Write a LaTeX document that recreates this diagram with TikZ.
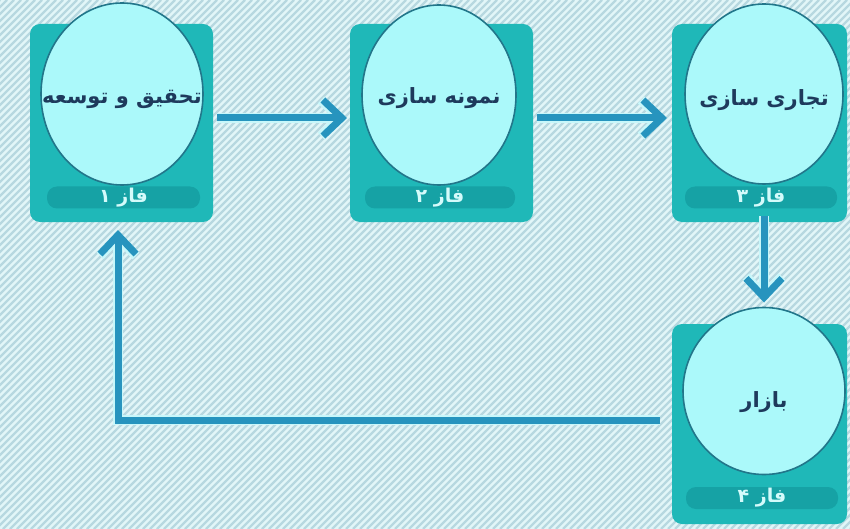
\documentclass[tikz,border=0pt]{standalone}
\usepackage{fontspec}
\newfontfamily\arabicfont[Script=Arabic]{DejaVu Sans}
\TeXXeTstate=1
\usetikzlibrary{arrows.meta,shapes.geometric}
\definecolor{bgA}{HTML}{E2F6F8}
\definecolor{bgS}{HTML}{B7D8E0}
\definecolor{boxc}{HTML}{1FB8B8}
\definecolor{pillc}{HTML}{16A2A5}
\definecolor{circf}{HTML}{ABF9FA}
\definecolor{circd}{HTML}{22768A}
\definecolor{arrc}{HTML}{2794BE}
\definecolor{haloc}{HTML}{C8F7FA}
\definecolor{txtc}{HTML}{1E3A5C}
\definecolor{pilltxt}{HTML}{D4FBFB}
\newcommand{\faword}[2][0pt]{\raisebox{#1}[0pt][0pt]{\makebox[0pt]{\beginR #2\endR}}}
\begin{document}
\begin{tikzpicture}[x=1pt,y=-1pt,
  phasebox/.style={fill=boxc, draw=none, rounded corners=10pt, inner sep=0pt, outer sep=0pt},
  bubble/.style={ellipse, fill=circf, draw=circd, line width=1.6pt, inner sep=0pt, outer sep=0pt,
    text=txtc, font=\arabicfont\bfseries\fontsize{21}{24}\selectfont},
  pill/.style={fill=pillc, draw=none, rounded corners=10pt, inner sep=0pt, outer sep=0pt,
    minimum height=22pt, text=pilltxt, font=\arabicfont\bfseries\fontsize{19}{20}\selectfont},
  conn/.style={draw=arrc, line width=7pt, -{Straight Barb[length=19pt,width=36pt]},
    preaction={draw=haloc, line width=9.5pt}}
]
\useasboundingbox (0,0) rectangle (850,529);
% background
\begin{scope}
\clip (0,0) rectangle (850,529);
\fill[bgA] (0,0) rectangle (850,529);
\foreach \i in {0,7,...,1400}
  \draw[bgS, line width=2.4pt] ({\i-529},529) -- (\i,0);
\end{scope}
% boxes
\node[phasebox, minimum width=183pt, minimum height=198pt] (b1) at (121.5,123) {};
\node[phasebox, minimum width=183pt, minimum height=198pt] (b2) at (441.5,123) {};
\node[phasebox, minimum width=175pt, minimum height=198pt] (b3) at (759.5,123) {};
\node[phasebox, minimum width=175pt, minimum height=200pt] (b4) at (759.5,424) {};
% pills
\node[pill, minimum width=153pt] (p1) at (123.5,197.5) {\beginR فاز ۱\endR};
\node[pill, minimum width=150pt] (p2) at (440,197.5) {\beginR فاز ۲\endR};
\node[pill, minimum width=152pt] (p3) at (761,197.5) {\beginR فاز ۳\endR};
\node[pill, minimum width=152pt] (p4) at (762,498) {\beginR فاز ۴\endR};
% bubbles
\node[bubble, minimum width=162pt, minimum height=182pt] (c1) at (122,94) {\faword[-10pt]{تحقیق و توسعه}};
\node[bubble, minimum width=154pt, minimum height=180pt] (c2) at (439,95) {\faword[-9pt]{نمونه سازی}};
\node[bubble, minimum width=158pt, minimum height=180pt] (c3) at (764,94) {\faword[-12pt]{تجاری سازی}};
\node[bubble, minimum width=162pt, minimum height=167pt] (c4) at (764,391) {\faword[-16pt]{بازار}};
% connectors
\draw[conn] ([shift={(4,-5)}]b1.east) -- ([shift={(-3,-5)}]b2.west);
\draw[conn] ([shift={(4,-5)}]b2.east) -- ([shift={(-5,-5)}]b3.west);
\draw[conn] ([yshift=6pt]b3.south -| c3.center) -- ([yshift=5pt]c4.north);
\draw[conn] ([shift={(-12,-4)}]b4.west) -| ([shift={(-3.5,8)}]b1.south);
\end{tikzpicture}
\end{document}
